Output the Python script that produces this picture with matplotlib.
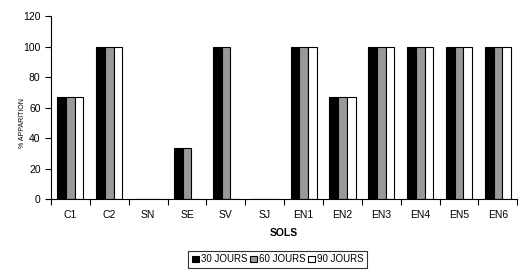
import matplotlib.pyplot as plt
import numpy as np

plt.rcParams['font.family'] = ['Liberation Sans', 'DejaVu Sans']

sols = ['C1', 'C2', 'SN', 'SE', 'SV', 'SJ', 'EN1', 'EN2', 'EN3', 'EN4', 'EN5', 'EN6']
j30 = [66.7, 100, 0, 33.3, 100, 0, 100, 66.7, 100, 100, 100, 100]
j60 = [66.7, 100, 0, 33.3, 100, 0, 100, 66.7, 100, 100, 100, 100]
j90 = [66.7, 100, 0, 0, 0, 0, 100, 66.7, 100, 100, 100, 100]
series = ['30 JOURS', '60 JOURS', '90 JOURS']
colors = ['black', '#999999', 'white']

fig = plt.figure(figsize=(5.24, 2.73), dpi=100)
ax = fig.add_axes([0.0973, 0.271, 0.89, 0.67])

x = np.arange(len(sols))
w = 0.224
for i, (vals, lab, c) in enumerate(zip([j30, j60, j90], series, colors)):
    ax.bar(x + (i - 1) * w, vals, w, color=c, edgecolor='black', linewidth=0.8, label=lab)

ax.set_xlim(-0.5, len(sols) - 0.5)
ax.set_ylim(0, 120)
ax.set_yticks(range(0, 121, 20))
ax.set_xticks(np.arange(len(sols) + 1) - 0.5)
ax.set_xticklabels([])
ax.set_xticks(x, minor=True)
ax.set_xticklabels(sols, minor=True)
ax.tick_params(axis='x', which='minor', length=0, labelsize=7.5, pad=8)
ax.tick_params(axis='x', which='major', length=4, direction='out')
ax.tick_params(axis='y', length=4, labelsize=7.5, direction='out')
for s in ['top', 'right']:
    ax.spines[s].set_visible(False)

ax.set_xlabel('SOLS', fontsize=7.5, fontweight='bold', labelpad=6)
fig.text(0.042, 0.55, '% APPARITION', rotation=90, fontsize=5, va='center', ha='center')

leg = fig.legend(loc='center', bbox_to_anchor=(0.53, 0.05), ncol=3, fontsize=7,
                 frameon=True, fancybox=False, edgecolor='black', handlelength=0.7,
                 handleheight=0.7, handletextpad=0.2, columnspacing=0.3, borderpad=0.35)
leg.get_frame().set_linewidth(0.8)

plt.savefig('out.png', dpi=100)
